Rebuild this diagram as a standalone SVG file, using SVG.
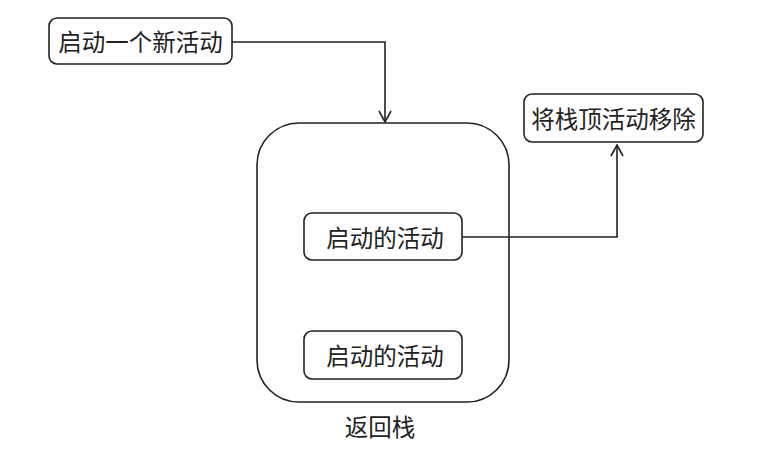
<svg xmlns="http://www.w3.org/2000/svg" width="771" height="450" viewBox="0 0 771 450">
<defs>
<style>
.box{fill:#fff;stroke:#222;stroke-width:1.6}
.lbl{font-family:"Noto Sans CJK SC","Noto Sans",sans-serif;font-size:23.5px;fill:#222;text-anchor:middle;dominant-baseline:central}
.edge{fill:none;stroke:#222;stroke-width:1.6}
</style>
<marker id="arr" viewBox="0 0 14 14" refX="13" refY="7" markerWidth="14" markerHeight="14" markerUnits="userSpaceOnUse" orient="auto">
<path d="M2,1 L13,7 L2,13" fill="none" stroke="#222" stroke-width="1.6"/>
</marker>
</defs>
<rect width="771" height="450" fill="#fff"/>
<g id="stack">
<rect class="box" x="257" y="123" width="252" height="279" rx="42" ry="42"/>
<text class="lbl" x="380" y="426">返回栈</text>
</g>
<g id="start">
<rect class="box" x="49" y="18" width="183" height="46" rx="8" ry="8"/>
<text class="lbl" x="140.5" y="41">启动一个新活动</text>
</g>
<g id="remove">
<rect class="box" x="524" y="94" width="179" height="48" rx="8" ry="8"/>
<text class="lbl" x="613.5" y="118">将栈顶活动移除</text>
</g>
<g id="act1">
<rect class="box" x="304" y="213" width="158" height="47" rx="8" ry="8"/>
<text class="lbl" x="385" y="237">启动的活动</text>
</g>
<g id="act2">
<rect class="box" x="304" y="331" width="158" height="48" rx="8" ry="8"/>
<text class="lbl" x="385" y="355">启动的活动</text>
</g>
<g id="connectors">
<path class="edge" d="M232,42 H385 V122" marker-end="url(#arr)"/>
<path class="edge" d="M462,237 H617 V145" marker-end="url(#arr)"/>
</g>
</svg>
